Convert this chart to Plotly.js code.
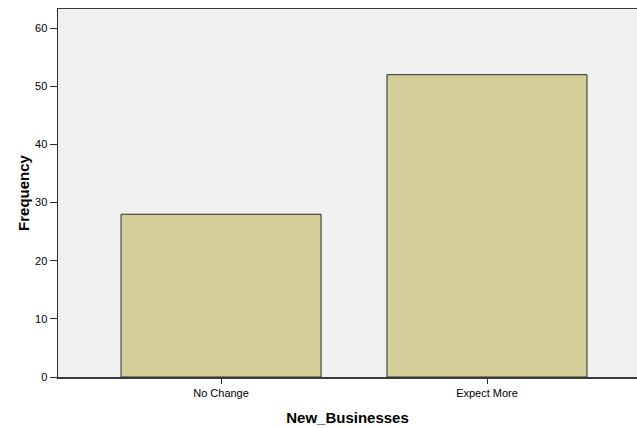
<!DOCTYPE html>
<html>
<head>
<meta charset="utf-8">
<script src="https://cdn.plot.ly/plotly-3.0.1.min.js"></script>
<style>html,body{margin:0;padding:0;background:#fff;}#chart{width:637px;height:428px;}</style>
</head>
<body>
<div id="chart"></div>
<script>
const categories = ["No Change", "Expect More"];
const frequencies = [28, 52];

const trace = {
  type: "bar",
  x: categories,
  y: frequencies,
  width: 0.752,
  marker: { color: "#d3ce97", line: { color: "#2b2b2b", width: 1 } },
  hoverinfo: "none"
};

const layout = {
  width: 637,
  height: 428,
  margin: { l: 58, r: 0, t: 9, b: 51, pad: 0 },
  paper_bgcolor: "#ffffff",
  plot_bgcolor: "#f0f0f0",
  showlegend: false,
  font: { family: "Liberation Sans, Arial, sans-serif", color: "#000" },
  xaxis: {
    type: "category",
    range: [-0.613, 1.564],
    showgrid: false,
    zeroline: false,
    showline: true,
    linecolor: "#3a3a3a",
    linewidth: 1.5,
    mirror: true,
    ticks: "outside",
    ticklen: 5,
    tickcolor: "#2b2b2b",
    tickfont: { size: 11, color: "#000" },
    title: { text: "New_Businesses", font: { size: 15, color: "#000", family: "Liberation Sans, Arial, sans-serif", weight: "bold" }, standoff: 15 }
  },
  yaxis: {
    range: [0, 63.3],
    tickvals: [0, 10, 20, 30, 40, 50, 60],
    showgrid: false,
    zeroline: false,
    showline: true,
    linecolor: "#2b2b2b",
    linewidth: 1.5,
    ticks: "outside",
    ticklen: 7,
    tickcolor: "#2b2b2b",
    tickfont: { size: 11, color: "#000" },
    title: { text: "Frequency", font: { size: 15, color: "#000", family: "Liberation Sans, Arial, sans-serif", weight: "bold" }, standoff: 2 }
  }
};

Plotly.newPlot("chart", [trace], layout, { displayModeBar: false, staticPlot: true });
</script>
</body>
</html>
